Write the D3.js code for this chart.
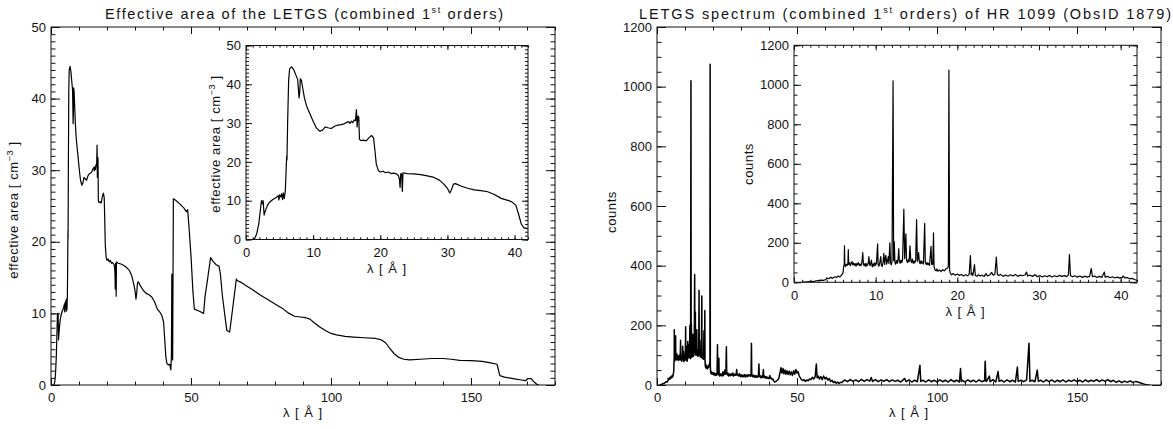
<!DOCTYPE html>
<html><head><meta charset="utf-8">
<script src="https://cdn.jsdelivr.net/npm/d3@7"></script>
<style>
body{margin:0;background:#fff}
svg text{font-family:"Liberation Sans",Arial,sans-serif;fill:#111}
</style></head><body>
<svg id="c" width="1173" height="429"></svg>
<script>
// ---- data ----
const areaData = [[0,0],[1.0,0],[1.3,0.3],[1.6,1.5],[1.9,4],[2.1,7],[2.3,10],[2.45,9.2],[2.55,10],[2.7,6.3],[2.9,7.5],[3.2,8.8],[3.5,9.6],[4.0,10.3],[4.5,10.8],[4.8,11.3],[4.9,10.2],[5.0,11.5],[5.2,11],[5.3,11.8],[5.45,10.3],[5.55,12],[5.7,10.5],[5.85,12.5],[5.95,16.5],[6.05,21.5],[6.1,20.5],[6.2,30],[6.35,41],[6.5,44],[6.8,44.5],[7.1,43.8],[7.4,42.5],[7.7,41.2],[7.9,36.5],[8.0,38],[8.1,41.5],[8.25,41],[8.4,39.5],[8.7,36.5],[9.0,34.5],[9.5,32.5],[10.0,30.5],[10.5,28.7],[11.0,27.9],[11.4,28.2],[11.8,29],[12.2,28.8],[12.7,28.6],[13.2,29.2],[13.7,29.5],[14.2,29.6],[14.6,29.8],[15.0,30.2],[15.3,30.4],[15.5,29.9],[15.7,30.5],[15.9,30.1],[16.1,30.8],[16.3,30.6],[16.45,33.5],[16.55,29],[16.7,31.8],[16.8,31.5],[16.9,25.8],[17.1,25.5],[17.5,25.6],[17.9,25.4],[18.3,26.2],[18.7,26.8],[19.0,26.2],[19.2,23],[19.4,19.5],[19.7,17.8],[20.0,17.4],[20.4,17.6],[20.8,17.2],[21.2,17.4],[21.6,17],[22.0,17.1],[22.4,16.9],[22.7,16.5],[22.85,15.5],[22.95,13.4],[23.05,17],[23.2,16.8],[23.28,12.4],[23.38,17.2],[24.0,17],[25.0,16.9],[26.0,16.7],[27.0,16.4],[28.0,16],[28.8,15.3],[29.5,14.2],[30.0,13.2],[30.35,12],[30.6,12.8],[30.9,14.3],[31.2,14.4],[32.0,13.8],[33.0,13.2],[34.0,12.8],[35.0,12.6],[36.0,12.3],[37.0,11.6],[38.0,10.6],[39.0,10.1],[39.6,9.7],[40.2,8.8],[40.6,6.5],[41.0,4],[41.4,3],[41.9,2.8],[42.4,2.9],[42.8,2.1],[43.0,4],[43.15,15.5],[43.3,5],[43.45,3.5],[43.7,26],[44.5,25.8],[46.0,25.3],[47.5,24.7],[48.3,24.2],[48.8,24.5],[49.3,22],[50.0,18],[50.7,13],[51.2,10.6],[53.0,10.3],[54.5,10],[55.0,12.3],[56.0,15],[57.0,17.8],[58.0,17.2],[59.0,16.8],[60.0,16.6],[60.5,15.5],[61.2,12.5],[62.0,10],[62.8,7.6],[63.8,7.4],[64.5,9.5],[65.3,12],[66.2,14.8],[66.5,14.6],[68.0,14.3],[70.0,13.8],[72.0,13.3],[75.0,12.5],[78.0,11.8],[80.0,11.3],[83.0,10.6],[85.0,10.0],[87.0,9.6],[89.0,9.5],[91.0,9.4],[92.5,9.2],[94.0,8.7],[96.0,8.1],[98.0,7.6],[100.0,7.2],[102.0,7.0],[105.0,6.8],[108.0,6.7],[112.0,6.6],[116.0,6.5],[118.0,6.3],[119.5,5.9],[121.0,5.1],[122.5,4.4],[124.0,3.9],[126.0,3.6],[128.0,3.5],[132.0,3.6],[136.0,3.7],[140.0,3.7],[143.0,3.6],[146.0,3.45],[150.0,3.4],[154.0,3.3],[157.0,3.1],[159.3,2.9],[160.3,1.3],[162.0,1.1],[165.0,0.9],[168.0,0.7],[169.5,0.6],[170.3,0.9],[171.5,0.9],[172.3,0.5],[173.5,0.1],[174.3,0]];

const spectrumData = [[0.9,0],[1.2,1],[1.5,2],[1.8,3],[2.1,5],[2.4,4],[2.7,7],[3.0,9],[3.3,11],[3.6,10],[3.9,14],[4.0,22],[4.2,18],[4.5,25],[4.7,20],[5.0,28],[5.2,24],[5.4,32],[5.6,27],[5.8,35],[6.0,48],[6.05,70],
[6.1,82],[6.15,90],[6.18,185],[6.22,88],[6.3,80],[6.4,92],[6.5,85],[6.6,95],[6.65,165],[6.7,90],[6.8,100],[6.9,84],[7.0,96],[7.1,105],[7.2,88],[7.3,98],[7.4,86],[7.5,94],[7.6,82],[7.7,96],[7.8,88],[7.9,100],[8.0,86],[8.1,92],[8.2,84],[8.3,98],[8.42,150],[8.5,90],[8.6,84],[8.7,96],[8.8,80],[8.9,94],[9.0,86],[9.1,100],[9.17,130],[9.25,92],[9.3,84],[9.4,96],[9.48,112],[9.55,84],[9.6,78],[9.7,94],[9.8,82],[9.9,100],[10.0,86],[10.1,96],[10.24,195],[10.3,90],[10.4,82],[10.5,98],[10.62,130],[10.7,86],[10.8,80],[10.9,100],[11.0,146],[11.1,90],[11.17,120],[11.25,136],[11.35,92],[11.45,110],[11.55,130],[11.62,96],[11.74,200],[11.82,100],[11.9,88],[12.0,104],[12.13,1020],[12.2,110],[12.28,205],[12.36,100],[12.45,92],[12.55,110],[12.65,96],[12.75,120],[12.83,170],[12.9,104],[13.0,96],[13.1,112],[13.2,100],[13.3,118],[13.45,370],[13.55,120],[13.7,245],[13.78,110],[13.9,100],[14.0,116],[14.1,104],[14.2,185],[14.3,110],[14.4,100],[14.5,118],[14.6,96],[14.7,108],[14.8,98],[14.9,112],[15.01,318],[15.1,106],[15.17,120],[15.26,150],[15.35,104],[15.45,94],[15.55,110],[15.65,96],[15.75,104],[15.85,92],[16.0,298],[16.08,100],[16.2,90],[16.3,100],[16.4,88],[16.5,96],[16.6,86],[16.78,182],[16.86,90],[17.0,92],[17.08,250],[17.15,80],[17.25,64],[17.4,58],[17.5,68],[17.6,56],[17.8,62],[18.0,54],[18.2,64],[18.4,58],[18.6,68],[18.8,72],[18.9,80],[18.97,1075],[19.05,62],[19.15,45],
[19.3,38],[19.5,44],[19.75,36],[20.0,42],[20.25,34],[20.5,40],[20.75,32],[21.0,38],[21.25,33],[21.45,40],[21.6,135],[21.7,38],[21.8,46],[21.9,34],[22.1,90],[22.2,36],[22.4,30],[22.6,38],[22.8,32],[23.0,36],[23.3,30],[23.5,44],[23.7,32],[24.0,38],[24.2,50],[24.4,36],[24.6,42],[24.78,128],[24.9,40],[25.1,34],[25.3,40],[25.6,30],[25.9,37],[26.2,31],[26.5,38],[26.8,32],[27.1,40],[27.4,30],[27.7,36],[28.0,33],[28.3,38],[28.47,52],[28.6,32],[28.9,36],[29.2,30],[29.5,38],[29.8,28],[30.1,34],[30.4,27],[30.7,33],[31.0,28],[31.3,35],[31.6,27],[31.9,33],[32.2,28],[32.5,35],[32.8,30],[33.1,34],[33.4,29],[33.6,38],[33.73,140],[33.85,34],[34.1,28],[34.4,33],[34.7,26],[35.0,32],[35.3,25],[35.6,31],[35.9,26],[36.2,30],[36.4,70],[36.55,28],[36.8,32],[37.1,24],[37.4,30],[37.7,25],[38.0,52],[38.1,26],[38.4,30],[38.7,23],[39.0,28],[39.3,22],[39.6,26],[39.9,21],[40.2,25],[40.3,32],[40.5,22],[40.8,24],[41.1,18],[41.4,20],[41.7,14],[42.0,10],
[42.5,12],[43.0,16],[43.5,22],[44.0,45],[44.3,58],[44.6,40],[45.0,55],[45.3,38],[45.7,50],[46.0,36],[46.4,48],[46.8,35],[47.2,46],[47.6,34],[48.0,44],[48.4,32],[48.8,48],[49.2,36],[49.6,52],[50.0,40],[50.4,45],[50.8,30],[51.2,24],[51.6,18],[52.0,15],[52.5,18],[53.0,12],[53.5,17],[54.0,14],[54.5,20],[55.0,18],[55.5,26],[56.0,20],[56.5,28],[56.9,70],[57.2,24],[57.6,30],[58.0,20],[58.5,28],[59.0,18],[59.5,30],[60.0,20],[60.5,26],[61.0,16],[61.5,22],[62.0,12],[62.5,16],[63.0,8],[63.5,12],[64.0,6],[64.5,10],[65.0,5],[65.5,9],
[66,8],[67,17],[68,11],[69,18],[70,12],[71,17],[72,11],[73,19],[74,12],[75,18],[76,13],[76.5,25],[77,12],[78,18],[79,11],[80,17],[81,12],[82,18],[83,11],[84,17],[85,12],[86,16],[87,10],[88,18],[88.4,22],[89,11],[90,17],[91,10],[92,16],[93,11],[93.9,66],[94.2,12],[95,16],[96,10],[97,17],[98,11],[99,16],[100,10],[101,17],[102,11],[103,16],[104,10],[105,18],[106,11],[107,16],[108,10],[108.4,55],[108.7,12],[109,16],[110,10],[111,17],[112,11],[113,16],[114,10],[115,17],[116,11],[117,15],[117.2,80],[117.5,12],[118,17],[118.7,30],[119,11],[120,18],[121,10],[121.8,45],[122.2,12],[123,16],[124,10],[125,17],[126,11],[127,16],[128,10],[128.7,60],[129,12],[130,16],[131,11],[132,17],[132.85,140],[133.2,12],[134,16],[135,11],[135.8,50],[136.2,12],[137,16],[138,10],[139,17],[140,11],[141,17],[142,10],[143,16],[144,11],[145,17],[146,10],[147,16],[148,12],[149,17],[150,11],[151,16],[152,10],[153,17],[154,11],[155,16],[156,12],[157,18],[158,11],[159,17],[160,12],[161,18],[162,11],[163,16],[164,9],[165,14],[166,8],[167,13],[168,9],[169,14],[170,8],[171,12],[172,9],[173,6],[174,3],[175,0],[176,0]];

const mainXTicks = [0,50,100,150];
const insetXTicks = [0,10,20,30,40];
const areaYTicks = [0,10,20,30,40,50];
const countsYTicks = [0,200,400,600,800,1000,1200];

// ---- drawing ----
const svg = d3.select("#c");
let clipN = 0;

function drawPanel(o){
  const g = svg.append("g");
  const x = d3.scaleLinear().domain(o.xDomain).range([o.x0,o.x1]);
  const y = d3.scaleLinear().domain(o.yDomain).range([o.y1,o.y0]);
  g.append("rect").attr("x",o.x0).attr("y",o.y0).attr("width",o.x1-o.x0).attr("height",o.y1-o.y0).attr("fill","#fff");
  const id = "clip"+(clipN++);
  g.append("clipPath").attr("id",id).append("rect").attr("x",o.x0).attr("y",o.y0).attr("width",o.x1-o.x0).attr("height",o.y1-o.y0);
  const line = d3.line().x(d=>x(d[0])).y(d=>y(d[1]));
  g.append("path").datum(o.data).attr("clip-path",`url(#${id})`).attr("d",line)
    .attr("fill","none").attr("stroke","#000").attr("stroke-width",o.lw).attr("stroke-linejoin","round");

  const xMinor = d3.range(o.xDomain[0], o.xDomain[1]+1e-9, o.xMinorStep);
  const yMinor = d3.range(o.yDomain[0], o.yDomain[1]+1e-9, o.yMinorStep);
  const ax = [
    [d3.axisBottom(x).tickValues(o.xTicks).tickSize(-o.xMaj).tickPadding(o.xPad).tickFormat(d3.format("d")), `translate(0,${o.y1})`],
    [d3.axisBottom(x).tickValues(xMinor).tickSize(-o.xMaj/2).tickFormat(""), `translate(0,${o.y1})`],
    [d3.axisTop(x).tickValues(o.xTicks).tickSize(-o.xMaj).tickFormat(""), `translate(0,${o.y0})`],
    [d3.axisTop(x).tickValues(xMinor).tickSize(-o.xMaj/2).tickFormat(""), `translate(0,${o.y0})`],
    [d3.axisLeft(y).tickValues(o.yTicks).tickSize(-o.yMaj).tickPadding(o.yPad).tickFormat(d3.format("d")), `translate(${o.x0},0)`],
    [d3.axisLeft(y).tickValues(yMinor).tickSize(-o.yMaj/2).tickFormat(""), `translate(${o.x0},0)`],
    [d3.axisRight(y).tickValues(o.yTicks).tickSize(-o.yMaj).tickFormat(""), `translate(${o.x1},0)`],
    [d3.axisRight(y).tickValues(yMinor).tickSize(-o.yMaj/2).tickFormat(""), `translate(${o.x1},0)`]
  ];
  ax.forEach(([a,t])=>{
    const ag = g.append("g").attr("transform",t).call(a);
    ag.select(".domain").remove();
    ag.selectAll("line").attr("stroke","#111").attr("stroke-width",1);
    ag.selectAll("text").attr("font-size",o.fs).attr("fill","#111").attr("font-family",'"Liberation Sans",Arial,sans-serif');
  });
  g.append("rect").attr("x",o.x0).attr("y",o.y0).attr("width",o.x1-o.x0).attr("height",o.y1-o.y0)
    .attr("fill","none").attr("stroke","#111").attr("stroke-width",1);

  g.append("text").attr("x",(o.x0+o.x1)/2).attr("y",o.xLabY).attr("text-anchor","middle")
    .attr("font-size",o.fs).style("letter-spacing","1px").text("λ [ Å ]");
  const yl = g.append("text").attr("transform",`translate(${o.yLabX},${o.yLabY})  rotate(-90)`)
    .attr("text-anchor","middle").attr("font-size",o.fs).style("letter-spacing","0.6px");
  if (o.yLabel === "area") {
    yl.append("tspan").text("effective area [ cm");
    yl.append("tspan").attr("dy",-5).attr("font-size",o.fs*0.7).text("−3");
    yl.append("tspan").attr("dy",5).text(" ]");
  } else {
    yl.text(o.yLabel);
  }
  return g;
}

function title(cx, y, pre, post, len){
  const t = svg.append("text").attr("x",cx).attr("y",y).attr("text-anchor","middle").attr("font-size",14.5)
    .attr("textLength",len).attr("lengthAdjust","spacing");
  t.append("tspan").text(pre);
  t.append("tspan").attr("dy",-6).attr("font-size",9).text("st");
  t.append("tspan").attr("dy",6).text(post);
}

const mainBase = {xDomain:[0,180], xTicks:mainXTicks, xMinorStep:10, xMaj:7, xPad:8, fs:13, y0:27, y1:385, xLabY:417};

drawPanel(Object.assign({}, mainBase, {x0:51, x1:555, yDomain:[0,50], yTicks:areaYTicks, yMinorStep:1, yMaj:9, yPad:5,
  data:areaData, yLabel:"area", yLabX:18, yLabY:210, lw:1.2}));
drawPanel({x0:246, x1:528, y0:45.5, y1:239.5, xDomain:[0,42], yDomain:[0,50], xTicks:insetXTicks, yTicks:areaYTicks,
  xMinorStep:1, yMinorStep:1, xMaj:4.5, yMaj:6, xPad:8, yPad:5, fs:13, data:areaData, yLabel:"area", yLabX:220, yLabY:144, xLabY:273, lw:1.2});

drawPanel(Object.assign({}, mainBase, {x0:657, x1:1161, yDomain:[0,1200], yTicks:countsYTicks, yMinorStep:50, yMaj:9, yPad:5,
  data:spectrumData, yLabel:"counts", yLabX:616, yLabY:212, lw:1.5}));
drawPanel({x0:794, x1:1137, y0:45.3, y1:282.3, xDomain:[0,42], yDomain:[0,1200], xTicks:insetXTicks, yTicks:countsYTicks,
  xMinorStep:1, yMinorStep:50, xMaj:5, yMaj:7, xPad:8, yPad:5, fs:13, data:spectrumData, yLabel:"counts", yLabX:753, yLabY:164, xLabY:316, lw:1.2});

title(304, 19, "Effective area of the LETGS (combined 1", " orders)", 398);
title(905, 19, "LETGS spectrum (combined 1", " orders) of HR 1099 (ObsID 1879)", 532);
</script>
</body></html>
